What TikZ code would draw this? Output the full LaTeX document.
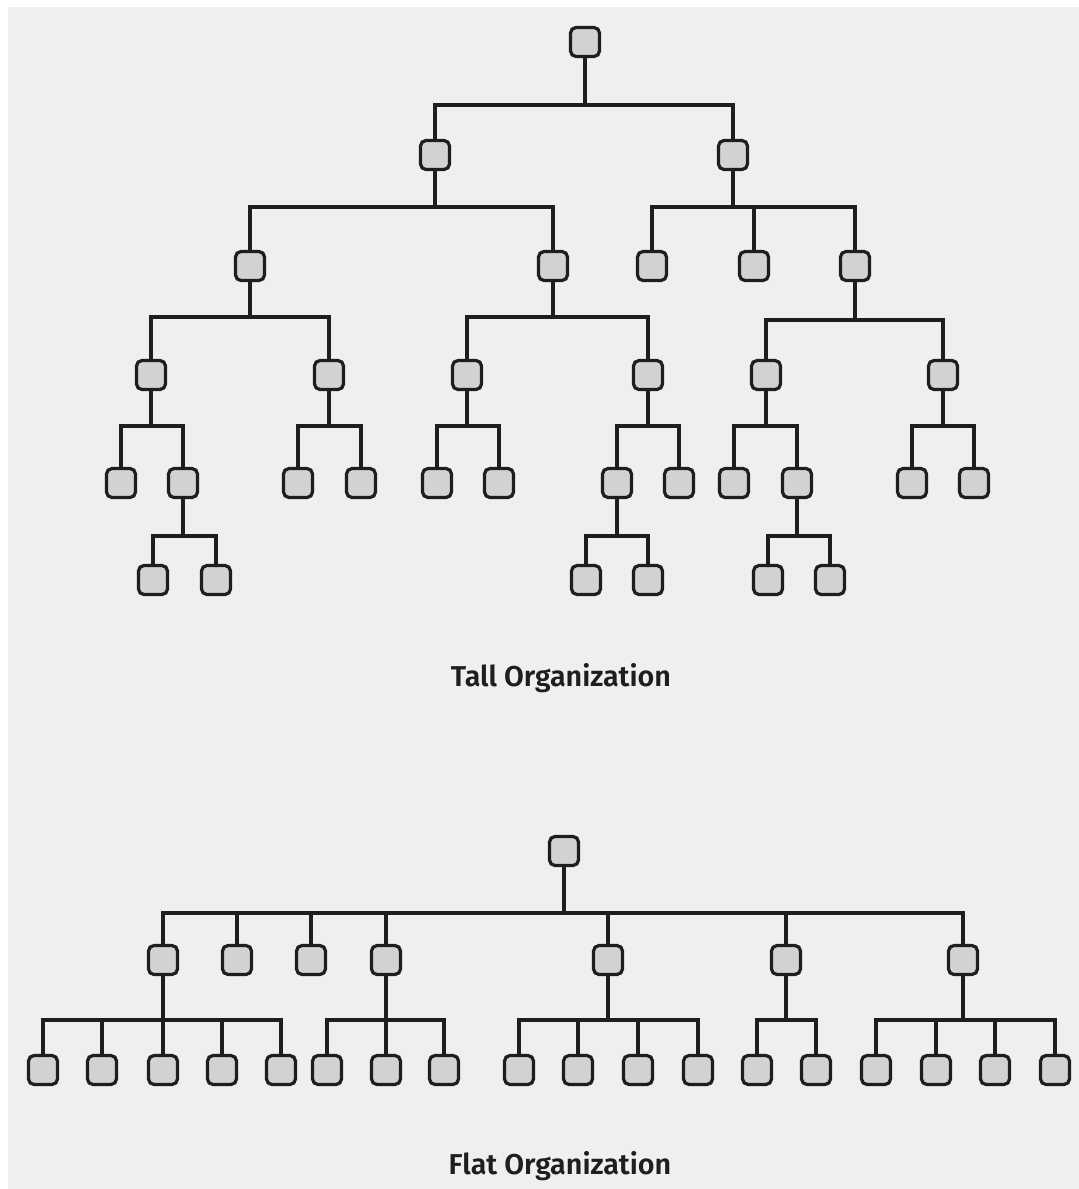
\documentclass[tikz,border=0pt]{standalone}
\usepackage{fontspec}
\setmainfont{Fira Sans}[BoldFont={Fira Sans SemiBold}]
\definecolor{paper}{HTML}{EFEFEF}
\definecolor{boxfill}{HTML}{D2D2D2}
\definecolor{ink}{HTML}{1E1E1E}
\tikzset{
  box/.style={draw=ink, fill=boxfill, line width=3.2pt, rounded corners=5.5pt,
    minimum size=29pt, inner sep=0pt},
  link/.style={draw=ink, line width=3.1pt},
  caption/.style={font=\fontsize{28.7}{32}\selectfont\bfseries, text=ink, anchor=base}
}
% parent node, y of the bar, list of children
\newcommand{\orgbranch}[3]{%
  \coordinate (#1-bar) at (#1 |- 0,#2);
  \draw[link] (#1.south) -- (#1-bar);
  \foreach \c in {#3} {\draw[link] (#1-bar) -| (\c.north);}
}
\begin{document}
\begin{tikzpicture}[x=1pt, y=-1pt]
\useasboundingbox (0,0) rectangle (1079,1189);
\fill[paper] (8,7) rectangle (1079,1189);

% ---- tall hierarchy ----
\node[box] (t) at (585,42) {};
\node[box] (t1) at (435,155) {};
\node[box] (t2) at (733,155) {};
\node[box] (t11) at (250,266) {};
\node[box] (t12) at (553,266) {};
\node[box] (t21) at (652,266) {};
\node[box] (t22) at (754,266) {};
\node[box] (t23) at (855,266) {};
\node[box] (t111) at (151,375) {};
\node[box] (t112) at (329,375) {};
\node[box] (t121) at (467,375) {};
\node[box] (t122) at (648,375) {};
\node[box] (t231) at (766,375) {};
\node[box] (t232) at (943,375) {};
\node[box] (t1111) at (121,483) {};
\node[box] (t1112) at (183,483) {};
\node[box] (t1121) at (298,483) {};
\node[box] (t1122) at (361,483) {};
\node[box] (t1211) at (437,483) {};
\node[box] (t1212) at (499,483) {};
\node[box] (t1221) at (617,483) {};
\node[box] (t1222) at (679,483) {};
\node[box] (t2311) at (734,483) {};
\node[box] (t2312) at (797,483) {};
\node[box] (t2321) at (912,483) {};
\node[box] (t2322) at (974,483) {};
\node[box] (t11121) at (153,580) {};
\node[box] (t11122) at (216,580) {};
\node[box] (t12211) at (586,580) {};
\node[box] (t12212) at (648,580) {};
\node[box] (t23121) at (768,580) {};
\node[box] (t23122) at (830,580) {};

\orgbranch{t}{105}{t1,t2}
\orgbranch{t1}{207}{t11,t12}
\orgbranch{t2}{207}{t21,t22,t23}
\orgbranch{t11}{317}{t111,t112}
\orgbranch{t12}{317}{t121,t122}
\orgbranch{t23}{320}{t231,t232}
\orgbranch{t111}{426}{t1111,t1112}
\orgbranch{t112}{426}{t1121,t1122}
\orgbranch{t121}{426}{t1211,t1212}
\orgbranch{t122}{426}{t1221,t1222}
\orgbranch{t231}{426}{t2311,t2312}
\orgbranch{t232}{426}{t2321,t2322}
\orgbranch{t1112}{536}{t11121,t11122}
\orgbranch{t1221}{536}{t12211,t12212}
\orgbranch{t2312}{536}{t23121,t23122}

\node[caption] (tallcap) at (561,686) {Tall Organization};

% ---- flat hierarchy ----
\node[box] (f) at (564,851) {};
\node[box] (f1) at (163,960) {};
\node[box] (f2) at (237,960) {};
\node[box] (f3) at (311,960) {};
\node[box] (f4) at (386,960) {};
\node[box] (f5) at (608,960) {};
\node[box] (f6) at (786,960) {};
\node[box] (f7) at (963,960) {};
\node[box] (f11) at (43,1070) {};
\node[box] (f12) at (102,1070) {};
\node[box] (f13) at (163,1070) {};
\node[box] (f14) at (222,1070) {};
\node[box] (f15) at (281,1070) {};
\node[box] (f41) at (327,1070) {};
\node[box] (f42) at (386,1070) {};
\node[box] (f43) at (444,1070) {};
\node[box] (f51) at (519,1070) {};
\node[box] (f52) at (578,1070) {};
\node[box] (f53) at (638,1070) {};
\node[box] (f54) at (698,1070) {};
\node[box] (f61) at (757,1070) {};
\node[box] (f62) at (816,1070) {};
\node[box] (f71) at (876,1070) {};
\node[box] (f72) at (936,1070) {};
\node[box] (f73) at (995,1070) {};
\node[box] (f74) at (1055,1070) {};

\orgbranch{f}{913}{f1,f2,f3,f4,f5,f6,f7}
\orgbranch{f1}{1020}{f11,f12,f13,f14,f15}
\orgbranch{f4}{1020}{f41,f42,f43}
\orgbranch{f5}{1020}{f51,f52,f53,f54}
\orgbranch{f6}{1020}{f61,f62}
\orgbranch{f7}{1020}{f71,f72,f73,f74}

\node[caption] (flatcap) at (560,1174) {Flat Organization};
\end{tikzpicture}
\end{document}
